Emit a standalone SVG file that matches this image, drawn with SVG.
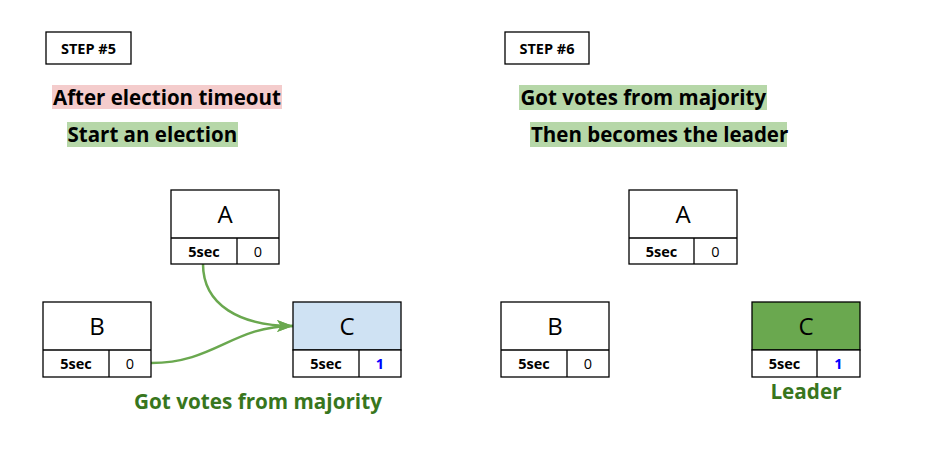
<svg xmlns="http://www.w3.org/2000/svg" width="941" height="462" viewBox="0 0 941 462">
<defs>
<style>
.box{fill:#fff;stroke:#000;stroke-width:1.3}
.ln{stroke:#000;stroke-width:1.3;fill:none}
.step{font-family:"Open Sans","Noto Sans",sans-serif;font-weight:bold;font-size:14.5px;fill:#000;text-anchor:middle}
.head{font-family:"Open Sans","Noto Sans",sans-serif;font-weight:bold;font-size:20.5px;fill:#000}
.name{font-family:"Open Sans","Noto Sans",sans-serif;font-size:24px;fill:#000;text-anchor:middle}
.sec{font-family:"Open Sans","Noto Sans",sans-serif;font-weight:bold;font-size:14.5px;fill:#000;text-anchor:middle}
.term{font-family:"Open Sans","Noto Sans",sans-serif;font-size:14.5px;fill:#000;text-anchor:middle}
.one{fill:#0000ff;font-weight:bold}
.glab{font-family:"Open Sans","Noto Sans",sans-serif;font-weight:bold;font-size:20.7px;fill:#38761d;text-anchor:middle}
.arr{fill:none;stroke:#6aa84f;stroke-width:2.5;marker-end:url(#ah)}
</style>
<marker id="ah" markerUnits="userSpaceOnUse" markerWidth="18" markerHeight="14" refX="16" refY="6" orient="auto">
<path d="M0,0 L16,6 L0,12 L4,6 z" fill="#6aa84f"/>
</marker>
</defs>

<g id="step5-label">
<rect x="46" y="32" width="85" height="32" class="box"/>
<text x="88.5" y="53.5" class="step">STEP #5</text>
</g>
<g id="step5-text">
<rect x="52" y="85" width="230" height="24" fill="#f4cccc"/>
<text x="53" y="104.5" class="head">After election timeout</text>
<rect x="67" y="122" width="171" height="25" fill="#b6d7a8"/>
<text x="67.5" y="141.5" class="head">Start an election</text>
</g>

<g id="connectors">
<path class="arr" d="M203,264 C203,305 240,326 293,326"/>
<path class="arr" d="M151,363 C215,363 232,326 293,326"/>
</g>

<g id="s5-A">
<rect x="171" y="190" width="108" height="74" class="box"/>
<path d="M171,238 H279 M237,238 V264" class="ln"/>
<text x="225" y="223" class="name">A</text>
<text x="204" y="257" class="sec">5sec</text>
<text x="258" y="257" class="term">0</text>
</g>
<g id="s5-B">
<rect x="43" y="302" width="108" height="75" class="box"/>
<path d="M43,350 H151 M109,350 V377" class="ln"/>
<text x="97" y="335" class="name">B</text>
<text x="76" y="369" class="sec">5sec</text>
<text x="130" y="369" class="term">0</text>
</g>
<g id="s5-C">
<rect x="293" y="302" width="108" height="48" fill="#cfe2f3" stroke="#000" stroke-width="1.3"/>
<rect x="293" y="350" width="108" height="27" class="box"/>
<path d="M359,350 V377" class="ln"/>
<text x="347" y="335" class="name">C</text>
<text x="326" y="369" class="sec">5sec</text>
<text x="380" y="369" class="term one">1</text>
</g>
<g id="s5-caption">
<text x="258" y="409" class="glab">Got votes from majority</text>
</g>

<g id="step6-label">
<rect x="505" y="32" width="84" height="32" class="box"/>
<text x="547" y="53.5" class="step">STEP #6</text>
</g>
<g id="step6-text">
<rect x="519" y="85" width="248" height="25" fill="#b6d7a8"/>
<text x="520.5" y="104.5" class="head">Got votes from majority</text>
<rect x="530" y="122" width="257" height="25" fill="#b6d7a8"/>
<text x="531" y="141.5" class="head">Then becomes the leader</text>
</g>

<g id="s6-A">
<rect x="629" y="190" width="108" height="74" class="box"/>
<path d="M629,238 H737 M694,238 V264" class="ln"/>
<text x="683" y="223" class="name">A</text>
<text x="661.5" y="257" class="sec">5sec</text>
<text x="715.5" y="257" class="term">0</text>
</g>
<g id="s6-B">
<rect x="501" y="302" width="108" height="75" class="box"/>
<path d="M501,350 H609 M567,350 V377" class="ln"/>
<text x="555" y="335" class="name">B</text>
<text x="534" y="369" class="sec">5sec</text>
<text x="588" y="369" class="term">0</text>
</g>
<g id="s6-C">
<rect x="752" y="302" width="108" height="48" fill="#6aa84f" stroke="#000" stroke-width="1.3"/>
<rect x="752" y="350" width="108" height="27" class="box"/>
<path d="M817,350 V377" class="ln"/>
<text x="806" y="335" class="name">C</text>
<text x="784.5" y="369" class="sec">5sec</text>
<text x="838.5" y="369" class="term one">1</text>
</g>
<g id="s6-caption">
<text x="806" y="399" class="glab">Leader</text>
</g>
</svg>
